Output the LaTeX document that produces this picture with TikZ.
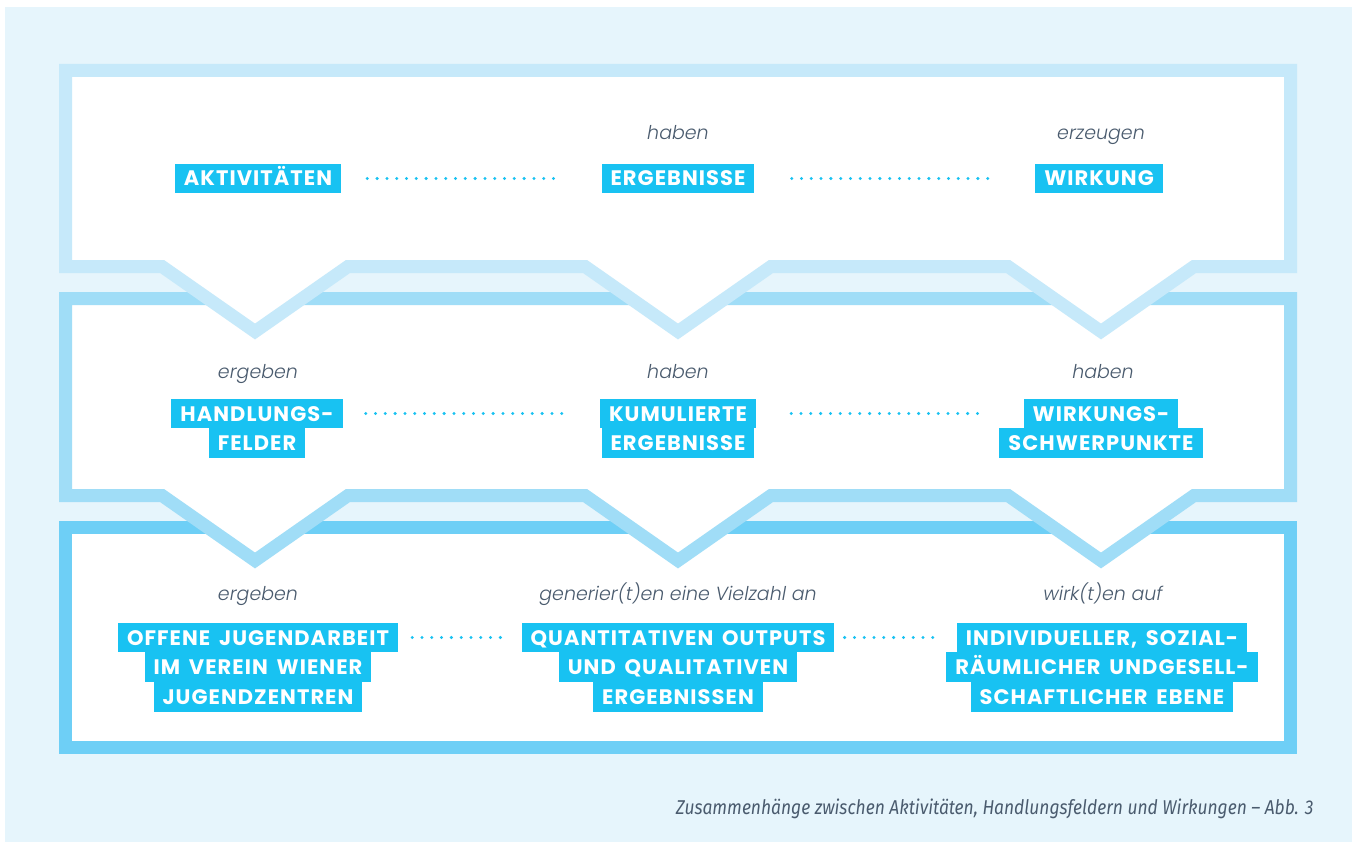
\documentclass[tikz,border=0pt]{standalone}
\usepackage{fontspec}
\setmainfont{Poppins}[ItalicFont={Poppins Light Italic}]
\newfontfamily\tagfont{Poppins Bold}[LetterSpace=5,WordSpace=1.6]
\newfontfamily\capfont{Fira Sans}[FakeStretch=0.87]
\usetikzlibrary{positioning}

\definecolor{bgblue}{RGB}{230,245,252}
\definecolor{lineA}{RGB}{198,233,250}
\definecolor{lineB}{RGB}{160,221,247}
\definecolor{lineC}{RGB}{110,207,246}
\definecolor{tagcyan}{RGB}{24,194,242}
\definecolor{slate}{RGB}{74,91,110}

\tikzset{
  panel/.style={line width=13pt, fill=white},
  tag/.style={fill=tagcyan, text=white, font=\tagfont\fontsize{21}{24}\selectfont,
    inner xsep=9pt, inner ysep=0pt, minimum height=29.6pt, text height=15pt, text depth=0pt},
  verb/.style={text=slate, font=\fontsize{19}{22}\selectfont\itshape,
    text height=14pt, text depth=4pt},
  dots/.style={draw=tagcyan, line width=3.3pt, line cap=round, dash pattern=on 0pt off 9.8pt},
}

\begin{document}
\begin{tikzpicture}[x=1pt, y=-1pt]
  \useasboundingbox (0,0) rectangle (1357,845);
  \fill[bgblue] (5,7) rectangle (1352,842);

  % panels, lowest first so the notches of the upper ones lie on top
  \draw[panel, draw=lineC] (65.5,527.5) rectangle (1290.5,747.5);
  \draw[panel, draw=lineB] (65.5,298.5) -- (1290.5,298.5) -- (1290.5,495.5)
    \foreach \c in {1101,678,255} { -- (\c+93,495.5) -- (\c,560.5) -- (\c-93,495.5) }
    -- (65.5,495.5) -- cycle;
  \draw[panel, draw=lineA] (65.5,70.5) -- (1290.5,70.5) -- (1290.5,266.5)
    \foreach \c in {1101,678,255} { -- (\c+93,266.5) -- (\c,331.5) -- (\c-93,266.5) }
    -- (65.5,266.5) -- cycle;

  % row 1
  \node[verb] (v12) at (678,135) {haben};
  \node[verb] (v13) at (1101,135) {erzeugen};
  \node[tag] (akt) at (258,178.5) {AKTIVITÄTEN};
  \node[tag] (erg) at (678,178.5) {ERGEBNISSE};
  \node[tag] (wir) at (1099,178.5) {WIRKUNG};
  \draw[dots, shorten <=26pt, shorten >=42pt] (akt) -- (erg);
  \draw[dots, shorten <=37pt, shorten >=43pt] (erg) -- (wir);

  % row 2
  \node[verb] (v21) at (258,373) {ergeben};
  \node[verb] (v22) at (678,373) {haben};
  \node[verb] (v23) at (1103,373) {haben};
  \node[tag] (hf1) at (257,413.5) {HANDLUNGS-};
  \node[tag, below=-0.4pt of hf1] (hf2) {FELDER};
  \node[tag] (ke1) at (678,413.5) {KUMULIERTE};
  \node[tag, below=-0.4pt of ke1] (ke2) {ERGEBNISSE};
  \node[tag] (ws1) at (1101,413.5) {WIRKUNGS-};
  \node[tag, below=-0.4pt of ws1] (ws2) {SCHWERPUNKTE};
  \draw[dots, shorten <=23pt, shorten >=37pt] (hf1) -- (ke1);
  \draw[dots, shorten <=35pt, shorten >=39pt] (ke1) -- (ws1);

  % row 3
  \node[verb] (v31) at (258,595) {ergeben};
  \node[verb] (v32) at (678,595) {generier(t)en eine Vielzahl an};
  \node[verb] (v33) at (1103,595) {wirk(t)en auf};
  \node[tag] (oj1) at (258,637.5) {OFFENE JUGENDARBEIT};
  \node[tag, below=-0.4pt of oj1] (oj2) {IM VEREIN WIENER};
  \node[tag, below=-0.4pt of oj2] (oj3) {JUGENDZENTREN};
  \node[tag] (qo1) at (678,637.5) {QUANTITATIVEN OUTPUTS};
  \node[tag, below=-0.4pt of qo1] (qo2) {UND QUALITATIVEN};
  \node[tag, below=-0.4pt of qo2] (qo3) {ERGEBNISSEN};
  \node[tag] (ie1) at (1102,637.5) {INDIVIDUELLER, SOZIAL-};
  \node[tag, below=-0.4pt of ie1] (ie2) {RÄUMLICHER UNDGESELL-};
  \node[tag, below=-0.4pt of ie2] (ie3) {SCHAFTLICHER EBENE};
  \draw[dots, shorten <=14pt, shorten >=19pt] (oj1) -- (qo1);
  \draw[dots, shorten <=10pt, shorten >=16pt] (qo1) -- (ie1);

  \node[anchor=east, text=slate, font=\capfont\itshape\fontsize{20}{24}\selectfont] (cap)
    at (1317,809) {Zusammenhänge zwischen Aktivitäten, Handlungsfeldern und Wirkungen – Abb. 3};
\end{tikzpicture}
\end{document}
